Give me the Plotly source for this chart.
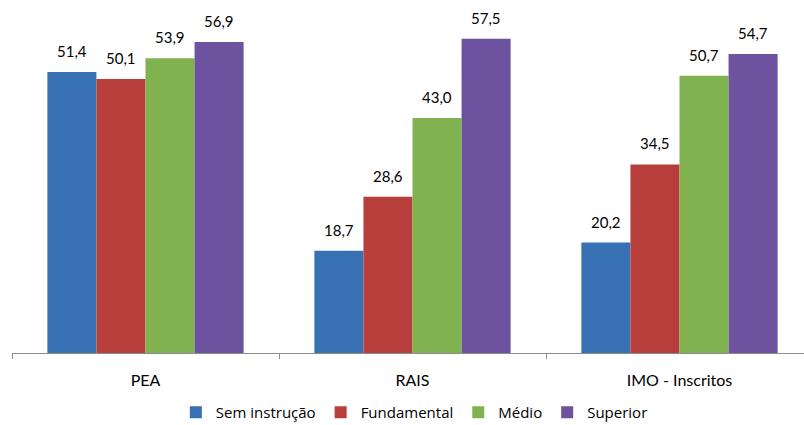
import plotly.graph_objects as go

categories = ["PEA", "RAIS", "IMO - Inscritos"]
series_names = ["Sem instrução", "Fundamental", "Médio", "Superior"]
sem_instrucao = [51.4, 18.7, 20.2]
fundamental = [50.1, 28.6, 34.5]
medio = [53.9, 43.0, 50.7]
superior = [56.9, 57.5, 54.7]
series_values = [sem_instrucao, fundamental, medio, superior]
colors = ["#3870b4", "#b83e3b", "#80b24f", "#6d52a0"]

W, H = 804, 425
ML, MR, MT, MB = 12, 0, 25, 72
plot_w = W - ML - MR
plot_h = H - MT - MB
unit_px = 267.0                     # pixel width of one category slot
x_hi = -0.5 + plot_w / unit_px
bargap = 0.265
bar_px = unit_px * (1 - bargap) / len(series_names)

fig = go.Figure()
for name, vals, col in zip(series_names, series_values, colors):
    fig.add_trace(go.Bar(
        x=categories, y=vals, name=name,
        marker=dict(color=col, line=dict(width=0)),
    ))

# value labels above each bar
for i, vals in enumerate(series_values):
    offset = (i - (len(series_names) - 1) / 2) * bar_px
    for cat, v in zip(categories, vals):
        fig.add_annotation(
            x=cat, y=v, text=f"{v:.1f}".replace(".", ","),
            showarrow=False, xshift=offset, yshift=10, yanchor="bottom",
            font=dict(family="Lato", size=15, color="#000000"),
        )

fig.update_layout(
    width=W, height=H,
    margin=dict(l=ML, r=MR, t=MT, b=MB, autoexpand=False),
    paper_bgcolor="white", plot_bgcolor="white",
    barmode="group", bargap=bargap, bargroupgap=0,
    showlegend=True,
    legend=dict(
        orientation="h", x=0.508, xanchor="center",
        y=-(MB + 4) / plot_h, yanchor="bottom",
        font=dict(family="Open Sans", size=15, color="#000000"),
        itemwidth=30, tracegroupgap=0,
    ),
    xaxis=dict(
        range=[-0.5, x_hi], showline=True, linecolor="#8c8c8c", linewidth=1,
        ticks="outside", tickson="boundaries", ticklen=5, tickcolor="#8c8c8c",
        ticklabelstandoff=13,
        tickfont=dict(family="Lato", size=16, color="#000000"),
        showgrid=False, zeroline=False,
    ),
    yaxis=dict(
        range=[0, 60], visible=False, showgrid=False, zeroline=False,
    ),
)

fig.write_html("out.html")
